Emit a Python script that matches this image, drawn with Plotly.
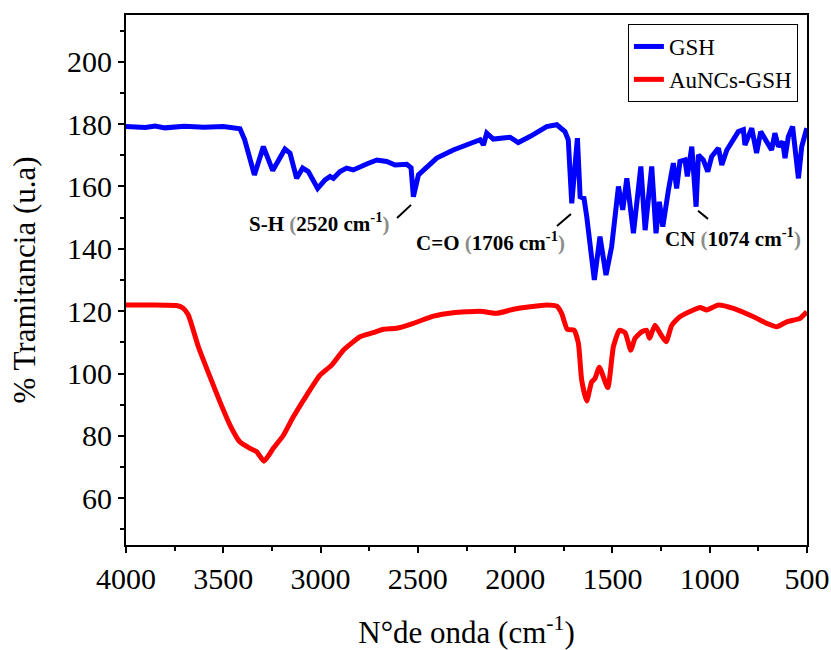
import plotly.graph_objects as go

# FTIR spectrum of glutathione (GSH)
gsh_wn = [4000, 3900, 3850, 3800, 3700, 3600, 3500, 3440, 3414, 3390, 3340, 3294, 3246,
          3183, 3157, 3123, 3092, 3063, 3015, 2977, 2951, 2934, 2900, 2866, 2832, 2763,
          2711, 2660, 2617, 2557, 2535, 2523, 2497, 2403, 2318, 2180, 2163, 2146, 2112,
          2026, 1984, 1924, 1838, 1786, 1744, 1727, 1709, 1680, 1666, 1646, 1632, 1593,
          1564, 1533, 1504, 1469, 1447, 1426, 1392, 1354, 1332, 1298, 1276, 1259, 1241,
          1212, 1187, 1170, 1153, 1127, 1115, 1092, 1070, 1058, 1033, 1010, 990, 955,
          938, 912, 853, 827, 819, 784, 759, 738, 707, 682, 665, 647, 625, 613, 596,
          574, 544, 527, 501]
gsh_t = [179.2, 178.9, 179.4, 178.8, 179.3, 179.0, 179.2, 178.8, 178.5, 175.0, 163.7, 172.8, 165.1,
         172.0, 170.7, 162.6, 165.9, 164.8, 159.4, 162.1, 163.2, 162.6, 164.8, 165.9, 165.3, 167.2,
         168.5, 168.0, 166.9, 167.1, 166.0, 156.7, 163.7, 169.1, 171.7, 175.0, 173.3, 177.1, 175.2,
         175.8, 174.1, 176.0, 179.2, 179.8, 177.6, 175.0, 154.6, 175.5, 156.7, 156.2, 150.3, 130.0,
         143.9, 131.6, 140.7, 160.0, 152.5, 162.6, 145.0, 166.4, 146.0, 166.4, 145.0, 155.1, 147.1,
         158.9, 167.5, 159.4, 168.0, 168.5, 163.2, 172.8, 153.5, 170.1, 168.5, 164.8, 169.6, 172.3,
         166.9, 171.7, 177.6, 178.2, 173.3, 178.7, 170.7, 177.6, 173.9, 171.7, 177.1, 172.8, 174.4, 169.1, 176.0,
         179.2, 162.6, 172.8, 178.7]

# FTIR spectrum of gold nanoclusters capped with GSH
au_wn = [4000, 3900, 3800, 3740, 3705, 3680, 3628, 3568, 3517, 3465, 3414, 3363, 3328,
         3291, 3243, 3191, 3140, 3071, 3003, 2943, 2883, 2797, 2729, 2677, 2609, 2523,
         2420, 2318, 2180, 2095, 2009, 1924, 1838, 1786, 1761, 1732, 1697, 1675, 1658,
         1632, 1607, 1590, 1567, 1524, 1495, 1464, 1435, 1406, 1384, 1349, 1324, 1310,
         1281, 1255, 1224, 1195, 1153, 1084, 1050, 1015, 955, 878, 775, 707, 656, 604,
         536, 501]
au_t = [122.0, 122.0, 121.9, 121.8, 120.9, 118.8, 108.6, 98.9, 90.9, 83.4, 78.0, 76.0, 74.9,
        71.9, 76.0, 80.2, 86.1, 93.1, 99.5, 102.7, 107.5, 111.8, 113.1, 114.2, 114.5, 116.1,
        118.4, 119.5, 120.0, 119.3, 120.6, 121.4, 122.0, 121.6, 119.3, 114.2, 113.9, 109.7, 97.9,
        91.2, 97.3, 98.4, 102.0, 95.5, 108.6, 113.9, 113.1, 107.5, 111.3, 113.4, 113.9, 111.3,
        115.5, 112.9, 110.2, 115.5, 118.2, 120.4, 121.2, 120.4, 122.0, 120.9, 118.2, 116.1, 115.0, 116.6,
        117.7, 119.8]

# Band assignments: label, label position (wavenumber, %T), leader line ends
band_labels = ["S-H", "C=O", "CN"]
band_wn = ["2520", "1706", "1074"]
label_x = [3008, 2129, 880]
label_y = [148.6, 142.5, 143.5]
leader_x0 = [2607, 1785, 1060]
leader_y0 = [149.9, 147.3, 152.2]
leader_x1 = [2535, 1713, 1009]
leader_y1 = [154.1, 151.2, 149.6]

serif = "Liberation Serif, Times New Roman, serif"

fig = go.Figure()
fig.add_trace(go.Scatter(x=gsh_wn, y=gsh_t, mode="lines", name="GSH",
                         line=dict(color="#0000ff", width=5)))
fig.add_trace(go.Scatter(x=au_wn, y=au_t, mode="lines", name="AuNCs-GSH",
                         line=dict(color="#ff0000", width=5, shape="spline", smoothing=0.5)))

for lab, wn, lx, ly, x0, y0, x1, y1 in zip(band_labels, band_wn, label_x, label_y,
                                           leader_x0, leader_y0, leader_x1, leader_y1):
    text = (f"<b>{lab} </b><span style='color:#8c8c8c'><b>(</b></span>"
            f"<b>{wn} cm<sup>-1</sup></b><span style='color:#8c8c8c'><b>)</b></span>")
    fig.add_annotation(x=lx, y=ly, text=text, showarrow=False, xanchor="center",
                       yanchor="middle", font=dict(family=serif, size=21, color="black"))
    fig.add_shape(type="line", x0=x0, y0=y0, x1=x1, y1=y1, xref="x", yref="y",
                  line=dict(color="black", width=2))

axis_common = dict(showgrid=False, zeroline=False, showline=True, linecolor="black",
                   linewidth=2, mirror=True, ticks="outside", tickcolor="black",
                   tickwidth=2, ticklen=6, automargin=False,
                   tickfont=dict(family=serif, size=30, color="black"))

fig.update_xaxes(range=[4000, 500], tick0=0, dtick=500,
                 minor=dict(dtick=250, ticks="outside", ticklen=4, tickwidth=2, tickcolor="black"),
                 title=dict(text="N°de onda (cm<sup>-1</sup>)", standoff=34,
                            font=dict(family=serif, size=31, color="black")),
                 **axis_common)
fig.update_yaxes(range=[45, 215], tick0=0, dtick=20,
                 minor=dict(dtick=10, ticks="outside", ticklen=4, tickwidth=2, tickcolor="black"),
                 title=dict(text="% Tramitancia (u.a)", standoff=22,
                            font=dict(family=serif, size=31, color="black")),
                 **axis_common)

fig.update_layout(
    width=831, height=650,
    margin=dict(l=126, r=24, t=15, b=105),
    plot_bgcolor="white", paper_bgcolor="white",
    legend=dict(x=0.737, y=0.983, xanchor="left", yanchor="top",
                bgcolor="white", bordercolor="black", borderwidth=1,
                font=dict(family=serif, size=23, color="black"),
                tracegroupgap=0, itemwidth=30),
)

fig.write_html("out.html")
